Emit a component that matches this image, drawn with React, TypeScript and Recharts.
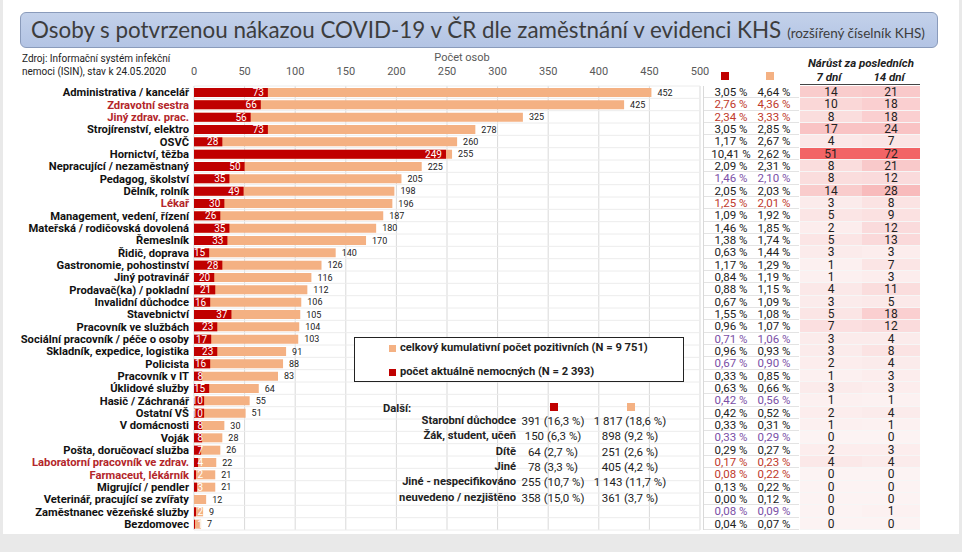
import React from 'react';
import { BarChart, Bar, XAxis, YAxis, CartesianGrid } from 'recharts';

const categories = [
  'Administrativa / kancelář', 'Zdravotní sestra', 'Jiný zdrav. prac.', 'Strojírenství, elektro', 'OSVČ',
  'Hornictví, těžba', 'Nepracující / nezaměstnaný', 'Pedagog, školství', 'Dělník, rolník', 'Lékař',
  'Management, vedení, řízení', 'Mateřská / rodičovská dovolená', 'Řemeslník', 'Řidič, doprava',
  'Gastronomie, pohostinství', 'Jiný potravinář', 'Prodavač(ka) / pokladní', 'Invalidní důchodce',
  'Stavebnictví', 'Pracovník ve službách', 'Sociální pracovník / péče o osoby', 'Skladník, expedice, logistika',
  'Policista', 'Pracovník v IT', 'Úklidové služby', 'Hasič / Záchranář', 'Ostatní VŠ', 'V domácnosti',
  'Voják', 'Pošta, doručovací služba', 'Laboratorní pracovník ve zdrav.', 'Farmaceut, lékárník',
  'Migrující / pendler', 'Veterinář, pracující se zvířaty', 'Zaměstnanec vězeňské služby', 'Bezdomovec',
];
const totalPositive = [452, 425, 325, 278, 260, 255, 225, 205, 198, 196, 187, 180, 170, 140, 126, 116, 112, 106, 105, 104, 103, 91, 88, 83, 64, 55, 51, 30, 28, 26, 22, 21, 21, 12, 9, 7];
const currentlyIll = [73, 66, 56, 73, 28, 249, 50, 35, 49, 30, 26, 35, 33, 15, 28, 20, 21, 16, 37, 23, 17, 23, 16, 8, 15, 10, 10, 8, 8, 7, 4, 2, 3, 0, 2, 1];
const pctIll = [3.05, 2.76, 2.34, 3.05, 1.17, 10.41, 2.09, 1.46, 2.05, 1.25, 1.09, 1.46, 1.38, 0.63, 1.17, 0.84, 0.88, 0.67, 1.55, 0.96, 0.71, 0.96, 0.67, 0.33, 0.63, 0.42, 0.42, 0.33, 0.33, 0.29, 0.17, 0.08, 0.13, 0.0, 0.08, 0.04];
const pctTotal = [4.64, 4.36, 3.33, 2.85, 2.67, 2.62, 2.31, 2.1, 2.03, 2.01, 1.92, 1.85, 1.74, 1.44, 1.29, 1.19, 1.15, 1.09, 1.08, 1.07, 1.06, 0.93, 0.9, 0.85, 0.66, 0.56, 0.52, 0.31, 0.29, 0.27, 0.23, 0.22, 0.22, 0.12, 0.09, 0.07];
const growth7 = [14, 10, 8, 17, 4, 51, 8, 8, 14, 3, 5, 2, 5, 3, 1, 1, 4, 3, 5, 7, 3, 3, 2, 1, 3, 1, 2, 1, 0, 2, 4, 0, 0, 0, 0, 0];
const growth14 = [21, 18, 18, 24, 7, 72, 21, 12, 28, 8, 9, 12, 13, 3, 7, 3, 11, 5, 18, 12, 4, 8, 4, 3, 3, 1, 4, 1, 0, 3, 4, 0, 0, 0, 1, 0];
// h = zdravotnictví (červeně), p = bezpečnost / veřejná služba (fialově)
const rowGroup = ['', 'h', 'h', '', '', '', '', 'p', '', 'h', '', '', '', '', '', '', '', '', '', '', 'p', '', 'p', '', '', 'p', '', '', 'p', '', 'h', 'h', '', '', 'p', ''];
const xTicks = [0, 50, 100, 150, 200, 250, 300, 350, 400, 450, 500];

const otherLabels = ['Starobní důchodce', 'Žák, student, učeň', 'Dítě', 'Jiné', 'Jiné - nespecifikováno', 'neuvedeno / nezjištěno'];
const otherIll = ['391 (16,3 %)', '150 (6,3 %)', '64 (2,7 %)', '78 (3,3 %)', '255 (10,7 %)', '358 (15,0 %)'];
const otherTotal = ['1 817 (18,6 %)', '898 (9,2 %)', '251 (2,6 %)', '405 (4,2 %)', '1 143 (11,7 %)', '361 (3,7 %)'];

const RED = '#c00000';
const SALMON = '#f4b183';
const NARROW = "'Liberation Sans Narrow', 'Roboto', sans-serif";
const PLOT_TOP = 86;
const PLOT_BOTTOM = 530;
const BAND = (PLOT_BOTTOM - PLOT_TOP) / categories.length;
const rowY = (i: number) => PLOT_TOP + (i + 0.5) * BAND;

const data = categories.map((name, i) => ({ name, total: totalPositive[i], ill: currentlyIll[i] }));

const fmtPct = (v: number) => v.toFixed(2).replace('.', ',') + ' %';
const labelColor = (g: string) => (g === 'h' ? '#b3262a' : '#111');
const pctColor = (g: string) => (g === 'h' ? '#c0392b' : g === 'p' ? '#7b4fa6' : '#222');

const heat = (v: number, max: number) => {
  const t = v / max;
  const base = [252, 243, 243];
  const top = [242, 100, 102];
  const c = base.map((b, k) => Math.round(b + (top[k] - b) * t));
  return `rgb(${c[0]},${c[1]},${c[2]})`;
};
const max7 = Math.max(...growth7);
const max14 = Math.max(...growth14);

const CategoryTick = (props: any) => {
  const { x, y, payload, index } = props;
  return (
    <text x={x} y={y} dy={4} textAnchor="end" fontSize={11.2} fontWeight={700} fontFamily={NARROW} fill={labelColor(rowGroup[index])}>
      {payload.value}
    </text>
  );
};

const IllLabel = (props: any) => {
  const { x, y, width, height, value } = props;
  const end = Math.max(x + width - 4, x + 9);
  return (
    <text x={end} y={y + height / 2} dy={3.5} textAnchor="end" fontSize={10} fontFamily={NARROW} fill="#fff">
      {value}
    </text>
  );
};

const TotalLabel = (props: any) => {
  const { x, y, width, height, value } = props;
  return (
    <text x={x + width + 6} y={y + height / 2} dy={3} fontSize={9} fontFamily="Roboto, sans-serif" fill="#222">
      {value}
    </text>
  );
};

const abs = (left: number, top: number, extra: React.CSSProperties = {}): React.CSSProperties => ({
  position: 'absolute', left, top, ...extra,
});

export default function App() {
  const hLines = Array.from({ length: categories.length + 1 }, (_, i) => PLOT_TOP + i * BAND);
  const cell = (left: number, i: number, width: number, extra: React.CSSProperties = {}): React.CSSProperties =>
    abs(left, rowY(i) - BAND / 2, { width, height: BAND, lineHeight: `${BAND}px`, textAlign: 'center', whiteSpace: 'nowrap', boxSizing: 'border-box', ...extra });
  return (
    <div style={{ position: 'absolute', left: 0, top: 0, width: 962, height: 552, background: '#e9e9e9', overflow: 'hidden', fontFamily: NARROW }}>
      <div style={abs(3, 0, { width: 956, height: 534, background: '#fff' })} />

      <div style={abs(20, 12, {
        width: 918, height: 36, background: 'linear-gradient(#c3d1ea, #b3c4e4)', border: '1px solid #8a9bbb',
        borderRadius: 6, boxSizing: 'border-box', color: '#3d3d3d', whiteSpace: 'nowrap', lineHeight: '33px', paddingLeft: 10,
      })}>
        <span style={{ fontSize: 22.4, fontFamily: 'Lato, sans-serif' }}>Osoby s potvrzenou nákazou COVID-19 v ČR dle zaměstnání v evidenci KHS</span>
        <span style={{ fontSize: 13.5, fontFamily: 'Lato, sans-serif', marginLeft: 6 }}>(rozšířený číselník KHS)</span>
      </div>

      <div style={abs(22, 52, { fontSize: 10, lineHeight: '13px', color: '#222' })}>
        Zdroj: Informační systém infekční<br />nemoci (ISIN), stav k 24.05.2020
      </div>
      <div style={abs(462, 51, { fontSize: 11, color: '#595959', transform: 'translateX(-50%)' })}>Počet osob</div>

      <div style={abs(0, 0)}>
        <BarChart width={962} height={552} layout="vertical" data={data} margin={{ top: 66, right: 262, bottom: 22, left: 0 }} barGap={-9}>
          <CartesianGrid horizontal={false} stroke="#d9d9d9" />
          <CartesianGrid vertical={false} horizontalPoints={hLines} stroke="#ececec" />
          <XAxis type="number" domain={[0, 500]} ticks={xTicks} orientation="top" height={20} interval={0}
            axisLine={false} tickLine={false} tickMargin={5} tick={{ fontSize: 11, fill: '#595959', fontFamily: NARROW }} />
          <YAxis type="category" dataKey="name" width={194} interval={0} axisLine={false} tickLine={false}
            tickSize={3} tickMargin={2} tick={<CategoryTick />} />
          <Bar dataKey="total" fill={SALMON} barSize={9} isAnimationActive={false} label={<TotalLabel />} />
          <Bar dataKey="ill" fill={RED} barSize={9} isAnimationActive={false} label={<IllLabel />} />
        </BarChart>
      </div>

      {/* legenda */}
      <div style={abs(354, 337, { width: 330, height: 45, border: '1px solid #222', background: '#fff', boxSizing: 'border-box' })} />
      <div style={abs(389, 345, { width: 7, height: 7, background: SALMON })} />
      <div style={abs(400, 341, { fontSize: 11.2, fontWeight: 700, color: '#222', whiteSpace: 'nowrap' })}>celkový kumulativní počet pozitivních (N = 9 751)</div>
      <div style={abs(389, 369, { width: 7, height: 7, background: RED })} />
      <div style={abs(400, 365, { fontSize: 11.2, fontWeight: 700, color: '#222', whiteSpace: 'nowrap' })}>počet aktuálně nemocných (N = 2 393)</div>

      {/* další */}
      <div style={abs(383, 402, { fontSize: 11.2, fontWeight: 700, color: '#222' })}>Další:</div>
      <div style={abs(550, 403, { width: 8, height: 8, background: RED })} />
      <div style={abs(627, 403, { width: 8, height: 8, background: SALMON })} />
      {otherLabels.map((l, i) => (
        <React.Fragment key={l}>
          <div style={abs(316, 414 + i * 15.3, { width: 200, textAlign: 'right', fontSize: 11.2, fontWeight: 700, color: '#222', whiteSpace: 'nowrap' })}>{l}</div>
          <div style={abs(503, 414 + i * 15.3, { width: 100, textAlign: 'center', fontSize: 11.5, color: '#222', whiteSpace: 'nowrap' })}>{otherIll[i]}</div>
          <div style={abs(580, 414 + i * 15.3, { width: 100, textAlign: 'center', fontSize: 11.5, color: '#222', whiteSpace: 'nowrap' })}>{otherTotal[i]}</div>
        </React.Fragment>
      ))}

      {/* procentní tabulka */}
      <div style={abs(721, 72, { width: 8, height: 8, background: RED })} />
      <div style={abs(766, 72, { width: 8, height: 8, background: SALMON })} />
      <div style={abs(703, PLOT_TOP, { width: 0, height: PLOT_BOTTOM - PLOT_TOP, borderLeft: '1px solid #d9d9d9' })} />
      {categories.map((c, i) => (
        <React.Fragment key={c}>
          <div style={cell(704, i, 95, { borderBottom: '1px solid #e3e3e3' })} />
          <div style={cell(703, i, 56, { fontSize: 11.5, color: pctColor(rowGroup[i]) })}>{fmtPct(pctIll[i])}</div>
          <div style={cell(746, i, 56, { fontSize: 11.5, color: pctColor(rowGroup[i]) })}>{fmtPct(pctTotal[i])}</div>
          <div style={cell(800, i, 62, { background: heat(growth7[i], max7), borderBottom: '1px solid #f6f6f6', fontSize: 12, color: '#222' })}>{growth7[i]}</div>
          <div style={cell(862, i, 58, { background: heat(growth14[i], max14), borderBottom: '1px solid #f6f6f6', fontSize: 12, color: '#222' })}>{growth14[i]}</div>
        </React.Fragment>
      ))}
      <div style={abs(808, 56, { width: 100, textAlign: 'center', fontSize: 11.5, fontWeight: 700, fontStyle: 'italic', color: '#222', whiteSpace: 'nowrap' })}>Nárůst za posledních</div>
      <div style={abs(800, 70, { width: 58, textAlign: 'center', fontSize: 11.5, fontWeight: 700, fontStyle: 'italic', color: '#222' })}>7 dní</div>
      <div style={abs(860, 70, { width: 58, textAlign: 'center', fontSize: 11.5, fontWeight: 700, fontStyle: 'italic', color: '#222' })}>14 dní</div>
      <div style={abs(800, 84, { width: 120, height: 0, borderTop: '1.5px solid #444' })} />
    </div>
  );
}
